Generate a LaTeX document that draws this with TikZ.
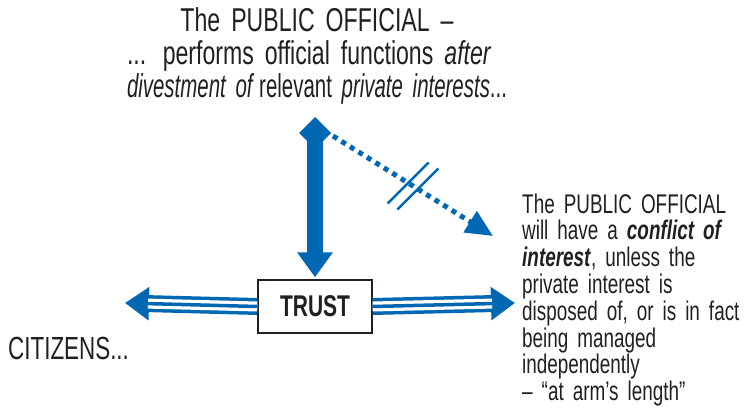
\documentclass[tikz,border=0pt]{standalone}
\usepackage{fontspec}
\usepackage{graphicx}
\setmainfont{Liberation Sans}[FakeStretch=0.70]
\usetikzlibrary{calc,arrows.meta}

\definecolor{trustblue}{RGB}{0,104,178}
\definecolor{inkgray}{RGB}{35,31,32}

\begin{document}
\begin{tikzpicture}[x=1pt,y=-1pt,
	every node/.style={inner sep=0pt, text=inkgray},
	trustbox/.style={draw=inkgray, line width=1.3pt, fill=white, minimum width=114pt, minimum height=53pt, font=\fontsize{30}{30}\selectfont\bfseries},
	vshaft/.style={draw=trustblue, fill=trustblue, line width=16pt, {Turned Square[length=32pt,width=32pt]}-{Triangle[length=25pt,width=34pt]}, shorten >=2pt},
	dotline/.style={draw=trustblue, line width=5pt, dash pattern=on 5pt off 5pt, -{Triangle[length=27pt,width=24pt]}},
	slash/.style={draw=trustblue, line width=2.5pt},
	tripleline/.style={draw=trustblue, line width=17pt, -{Triangle[length=24pt,width=32pt]},
		postaction={draw=white, line width=10pt, shorten >=23pt, -},
		postaction={draw=trustblue, line width=3.5pt, shorten >=23pt, -}}]

	\useasboundingbox (0,0) rectangle (751,407);

	%texts
	\node[anchor=base, text width=380pt, align=center, font=\fontsize{33}{33}\selectfont] (official) at (317,31)
		{The PUBLIC OFFICIAL --\\
		\makebox[\linewidth][s]{... performs official functions \textit{after}}\\
		\resizebox{\linewidth}{\height}{\textit{divestment of}\,relevant \textit{private interests}...}};
	\node[anchor=base west, text width=229pt, align=left, font=\fontsize{27}{26.8}\selectfont] (conflict) at (522,213)
		{The PUBLIC OFFICIAL\\
		will have a \textbf{\textit{conflict of}}\\
		\textbf{\textit{interest}}, unless the\\
		private interest is\\
		disposed of, or is in fact\\
		being managed\\
		independently\\
		-- ``at arm’s length''};
	\node[anchor=base west, font=\fontsize{32}{32}\selectfont] (citizens) at (8,359) {CITIZENS...};

	\node[trustbox] (trust) at (315,306.5) {TRUST};

	%arrow ends
	\coordinate (pub) at (315,117);
	\coordinate (pubr) at (333,136);
	\coordinate (conf) at (493,236);
	\coordinate (citz) at (125,303);
	\coordinate (pvt) at (515,303);

	\draw[vshaft] (pub) -- (trust.north);
	\draw[tripleline] (trust.west) -- (citz);
	\draw[tripleline] (trust.east) -- (pvt);
	\draw[dotline] (pubr) -- (conf);

	%broken link
	\path (pubr) -- (conf) coordinate[pos=0.47] (cut1) coordinate[pos=0.53] (cut2);
	\draw[slash] ($(cut1)+(-20.5,20.5)$) -- ($(cut1)+(20.5,-20.5)$);
	\draw[slash] ($(cut2)+(-20.5,20.5)$) -- ($(cut2)+(20.5,-20.5)$);

\end{tikzpicture}
\end{document}
